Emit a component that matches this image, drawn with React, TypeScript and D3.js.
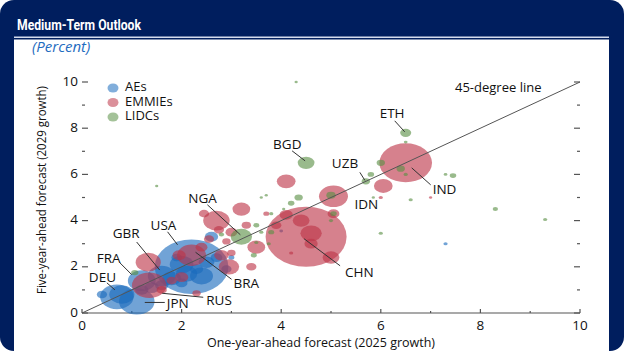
import { useEffect, useRef } from "react";
import * as d3 from "d3";

type Bubble = { id: string; x: number; y: number; w: number };

// one-year-ahead (x), five-year-ahead (y), weight (share of world GDP)
const aes: Bubble[] = [
	{ id: "USA", x: 2.2, y: 2.0, w: 15.5 },
	{ id: "JPN", x: 1.1, y: 0.5, w: 3.6 },
	{ id: "DEU", x: 0.7, y: 0.7, w: 3.2 },
	{ id: "FRA", x: 1.2, y: 1.4, w: 2.2 },
	{ id: "GBR", x: 1.6, y: 1.6, w: 2.2 },
	{ id: "", x: 0.8, y: 0.8, w: 1.8 },
	{ id: "", x: 2.4, y: 1.6, w: 1.5 },
	{ id: "", x: 2.0, y: 2.1, w: 1.6 },
	{ id: "", x: 2.1, y: 1.7, w: 1.3 },
	{ id: "", x: 1.8, y: 1.5, w: 1.0 },
	{ id: "", x: 2.5, y: 2.2, w: 0.7 },
	{ id: "", x: 1.4, y: 1.1, w: 0.6 },
	{ id: "", x: 1.6, y: 1.2, w: 0.5 },
	{ id: "", x: 2.3, y: 1.9, w: 0.5 },
	{ id: "", x: 1.2, y: 1.0, w: 0.5 },
	{ id: "", x: 2.6, y: 3.3, w: 0.5 },
	{ id: "", x: 2.0, y: 1.3, w: 0.4 },
	{ id: "", x: 2.7, y: 2.4, w: 0.4 },
	{ id: "", x: 1.9, y: 2.4, w: 0.3 },
	{ id: "", x: 2.9, y: 1.9, w: 0.3 },
	{ id: "", x: 0.4, y: 0.8, w: 0.3 },
	{ id: "", x: 3.0, y: 2.4, w: 0.1 },
	{ id: "", x: 4.0, y: 3.55, w: 0.04 },
	{ id: "", x: 7.3, y: 3.0, w: 0.05 },
];

const emmies: Bubble[] = [
	{ id: "CHN", x: 4.5, y: 3.3, w: 18.7 },
	{ id: "IND", x: 6.5, y: 6.5, w: 7.9 },
	{ id: "IDN", x: 5.05, y: 5.05, w: 2.4 },
	{ id: "BRA", x: 2.2, y: 2.5, w: 2.4 },
	{ id: "RUS", x: 1.35, y: 1.2, w: 3.4 },
	{ id: "", x: 1.33, y: 2.2, w: 1.8 },
	{ id: "", x: 2.7, y: 4.0, w: 2.0 },
	{ id: "", x: 4.1, y: 5.7, w: 1.0 },
	{ id: "", x: 3.2, y: 4.5, w: 0.9 },
	{ id: "", x: 3.5, y: 2.85, w: 0.9 },
	{ id: "", x: 2.95, y: 2.0, w: 1.2 },
	{ id: "", x: 4.1, y: 4.25, w: 0.5 },
	{ id: "", x: 4.4, y: 4.0, w: 0.8 },
	{ id: "", x: 4.6, y: 3.45, w: 1.3 },
	{ id: "", x: 4.6, y: 3.0, w: 0.5 },
	{ id: "", x: 5.0, y: 2.4, w: 0.8 },
	{ id: "", x: 6.05, y: 5.5, w: 1.0 },
	{ id: "", x: 5.05, y: 4.3, w: 0.4 },
	{ id: "", x: 2.0, y: 1.55, w: 0.5 },
	{ id: "", x: 2.3, y: 0.85, w: 0.2 },
	{ id: "", x: 1.95, y: 2.5, w: 0.5 },
	{ id: "", x: 2.4, y: 2.85, w: 0.4 },
	{ id: "", x: 2.55, y: 3.2, w: 0.3 },
	{ id: "", x: 2.45, y: 4.3, w: 0.3 },
	{ id: "", x: 3.0, y: 3.5, w: 0.4 },
	{ id: "", x: 2.75, y: 3.6, w: 0.3 },
	{ id: "", x: 3.4, y: 2.0, w: 0.3 },
	{ id: "", x: 3.9, y: 3.8, w: 0.3 },
	{ id: "", x: 3.3, y: 3.8, w: 0.25 },
	{ id: "", x: 2.8, y: 2.5, w: 0.6 },
	{ id: "", x: 3.0, y: 2.6, w: 0.2 },
	{ id: "", x: 2.9, y: 3.1, w: 0.2 },
	{ id: "", x: 1.6, y: 1.0, w: 0.3 },
	{ id: "", x: 1.8, y: 1.4, w: 0.3 },
	{ id: "", x: 3.7, y: 4.3, w: 0.1 },
	{ id: "", x: 4.2, y: 2.6, w: 0.05 },
	{ id: "", x: 6.0, y: 5.0, w: 0.05 },
	{ id: "", x: 7.0, y: 5.0, w: 0.03 },
];

const lidcs: Bubble[] = [
	{ id: "NGA", x: 3.2, y: 3.3, w: 1.3 },
	{ id: "BGD", x: 4.5, y: 6.5, w: 0.8 },
	{ id: "ETH", x: 6.5, y: 7.8, w: 0.35 },
	{ id: "UZB", x: 5.7, y: 5.7, w: 0.2 },
	{ id: "", x: 4.3, y: 10.0, w: 0.03 },
	{ id: "", x: 1.5, y: 5.5, w: 0.03 },
	{ id: "", x: 8.3, y: 4.5, w: 0.08 },
	{ id: "", x: 9.3, y: 4.05, w: 0.05 },
	{ id: "", x: 7.45, y: 5.95, w: 0.12 },
	{ id: "", x: 7.3, y: 6.0, w: 0.04 },
	{ id: "", x: 6.6, y: 4.9, w: 0.05 },
	{ id: "", x: 5.8, y: 6.0, w: 0.12 },
	{ id: "", x: 5.85, y: 5.0, w: 0.03 },
	{ id: "", x: 6.0, y: 6.5, w: 0.2 },
	{ id: "", x: 6.4, y: 6.25, w: 0.2 },
	{ id: "", x: 6.5, y: 6.0, w: 0.05 },
	{ id: "", x: 6.5, y: 7.4, w: 0.04 },
	{ id: "", x: 4.35, y: 5.0, w: 0.2 },
	{ id: "", x: 4.2, y: 4.75, w: 0.12 },
	{ id: "", x: 5.0, y: 5.1, w: 0.25 },
	{ id: "", x: 5.05, y: 4.3, w: 0.12 },
	{ id: "", x: 6.0, y: 3.45, w: 0.05 },
	{ id: "", x: 4.05, y: 4.5, w: 0.03 },
	{ id: "", x: 3.8, y: 4.3, w: 0.05 },
	{ id: "", x: 3.8, y: 3.5, w: 0.1 },
	{ id: "", x: 3.6, y: 3.5, w: 0.05 },
	{ id: "", x: 3.5, y: 3.8, w: 0.1 },
	{ id: "", x: 3.5, y: 3.05, w: 0.05 },
	{ id: "", x: 3.75, y: 3.0, w: 0.05 },
	{ id: "", x: 3.45, y: 2.5, w: 0.1 },
	{ id: "", x: 5.0, y: 4.0, w: 0.05 },
	{ id: "", x: 1.06, y: 1.75, w: 0.15 },
	{ id: "", x: 3.7, y: 5.1, w: 0.03 },
	{ id: "", x: 3.6, y: 5.0, w: 0.03 },
	{ id: "", x: 2.8, y: 3.4, w: 0.08 },
];

const groupNames = ["AEs", "EMMIEs", "LIDCs"];
const groupColors = ["#1a6bbd", "#bd3447", "#5a8f45"];
const majorTicks = [0, 2, 4, 6, 8, 10];
const minorTicks = [1, 3, 5, 7, 9];

// label placement, px offsets from the bubble centre: text, leader start, leader end
const labelLayout: Record<string, { t: [number, number]; a?: [number, number]; b?: [number, number] }> = {
	CHN: { t: [39, 40], a: [-2, 2], b: [34, 29] },
	IND: { t: [27, 31], a: [6, 5], b: [25, 22] },
	IDN: { t: [21, 13] },
	BRA: { t: [42, 33], a: [4, -3], b: [40, 24] },
	RUS: { t: [57, 20], a: [13, 8], b: [54, 12] },
	JPN: { t: [30, 7], a: [8, 1], b: [28, 1] },
	DEU: { t: [-28, -15], a: [-2, -7], b: [-10, -14] },
	FRA: { t: [-45, -18], a: [-10, -6], b: [-22, -18] },
	GBR: { t: [-49, -38], a: [-2, -6], b: [-25, -34] },
	USA: { t: [-41, -37], a: [-14, -22], b: [-24, -35] },
	NGA: { t: [-53, -34], a: [-1, -2], b: [-34, -32] },
	BGD: { t: [-33, -14], a: [-1, -2], b: [-14, -12] },
	UZB: { t: [-34, -13], a: [-1, -1], b: [-6, -9] },
	ETH: { t: [-26, -15], a: [-1, -1], b: [-11, -12] },
};

const FONT = "'Open Sans', sans-serif";

const App = () => {
	const svgRef = useRef<SVGSVGElement>(null);

	useEffect(() => {
		if (!svgRef.current) return;
		document.body.style.margin = "0";

		const W = 624;
		const H = 352;
		const svg = d3.select(svgRef.current).attr("width", W).attr("height", H);
		svg.selectAll("*").remove();

		// cadre
		svg.append("rect").attr("width", W).attr("height", H).attr("fill", "#fff");
		svg.append("rect").attr("x", 0).attr("y", 0).attr("width", W).attr("height", H - 1)
			.attr("rx", 14).attr("fill", "#001e5e");
		svg.append("rect").attr("x", 14).attr("y", 39.5).attr("width", 595).attr("height", H - 39.5)
			.attr("fill", "#fff");
		svg.append("line").attr("x1", 14).attr("x2", 609).attr("y1", 37.2).attr("y2", 37.2)
			.attr("stroke", "#d5ddee").attr("stroke-width", 1.4);
		svg.append("text").attr("x", 17).attr("y", 30).text("Medium-Term Outlook")
			.attr("fill", "#fff").attr("font-family", "Roboto, sans-serif")
			.attr("font-weight", 700).attr("font-size", 14)
			.attr("textLength", 124).attr("lengthAdjust", "spacingAndGlyphs");
		svg.append("text").attr("x", 32).attr("y", 52).text("(Percent)")
			.attr("fill", "#1f6cc0").attr("font-family", FONT).attr("font-style", "italic")
			.attr("font-size", 15);

		const x = d3.scaleLinear().domain([0, 10]).range([82, 580]);
		const y = d3.scaleLinear().domain([0, 10]).range([313, 82]);
		const r = d3.scaleSqrt().domain([0, 18.7]).range([0, 30]);
		const stretch = 1.35;

		const g = svg.append("g");

		// axes
		g.append("line").attr("x1", x(0)).attr("x2", x(10)).attr("y1", y(0)).attr("y2", y(0))
			.attr("stroke", "#555").attr("stroke-width", 1.2);
		majorTicks.forEach((t) => {
			g.append("line").attr("x1", x(t)).attr("x2", x(t)).attr("y1", y(0)).attr("y2", y(0) - 4)
				.attr("stroke", "#555").attr("stroke-width", 1.2);
			g.append("text").attr("x", x(t)).attr("y", 330).attr("text-anchor", "middle")
				.attr("font-family", FONT).attr("font-size", 13.5).attr("fill", "#111").text(t);
			g.append("text").attr("x", 78).attr("y", y(t)).attr("text-anchor", "end")
				.attr("dominant-baseline", "middle")
				.attr("font-family", FONT).attr("font-size", 13.5).attr("fill", "#111").text(t);
			g.append("line").attr("x1", x(0)).attr("x2", x(0) + 6).attr("y1", y(t)).attr("y2", y(t))
				.attr("stroke", "#555").attr("stroke-width", 1.2);
			g.append("line").attr("x1", x(10) - 6).attr("x2", x(10)).attr("y1", y(t)).attr("y2", y(t))
				.attr("stroke", "#555").attr("stroke-width", 1.2);
		});
		minorTicks.forEach((t) => {
			g.append("line").attr("x1", x(t)).attr("x2", x(t)).attr("y1", y(0)).attr("y2", y(0) - 2)
				.attr("stroke", "#555").attr("stroke-width", 1.2);
			g.append("line").attr("x1", x(0)).attr("x2", x(0) + 3).attr("y1", y(t)).attr("y2", y(t))
				.attr("stroke", "#555").attr("stroke-width", 1.2);
			g.append("line").attr("x1", x(10) - 3).attr("x2", x(10)).attr("y1", y(t)).attr("y2", y(t))
				.attr("stroke", "#555").attr("stroke-width", 1.2);
		});

		g.append("text").attr("x", 321).attr("y", 347).attr("text-anchor", "middle")
			.attr("font-family", FONT).attr("font-size", 12.5).attr("fill", "#111")
			.text("One-year-ahead forecast (2025 growth)");
		g.append("text").attr("transform", "translate(46,190) rotate(-90)")
			.attr("text-anchor", "middle").attr("font-family", FONT).attr("font-size", 13)
			.attr("fill", "#111").attr("textLength", 208).attr("lengthAdjust", "spacingAndGlyphs")
			.text("Five-year-ahead forecast (2029 growth)");

		// bulles
		[aes, emmies, lidcs].forEach((set, i) => {
			const sorted = [...set].sort((a, b) => b.w - a.w);
			g.append("g").selectAll("ellipse").data(sorted).join("ellipse")
				.attr("cx", (d) => x(d.x)).attr("cy", (d) => y(d.y))
				.attr("rx", (d) => Math.max(1.2, r(d.w) * stretch))
				.attr("ry", (d) => Math.max(1, r(d.w)))
				.attr("fill", groupColors[i]).attr("fill-opacity", 0.62);
		});

		// ligne à 45 degrés
		g.append("line").attr("x1", x(0)).attr("y1", y(0)).attr("x2", x(10)).attr("y2", y(10))
			.attr("stroke", "#555").attr("stroke-width", 1);
		g.append("text").attr("x", 455).attr("y", 92).attr("font-family", FONT)
			.attr("font-size", 13).attr("fill", "#111").text("45-degree line");

		// étiquettes
		[...aes, ...emmies, ...lidcs].filter((d) => d.id && labelLayout[d.id]).forEach((d) => {
			const L = labelLayout[d.id];
			const cx = x(d.x);
			const cy = y(d.y);
			if (L.a && L.b) {
				g.append("line").attr("x1", cx + L.a[0]).attr("y1", cy + L.a[1])
					.attr("x2", cx + L.b[0]).attr("y2", cy + L.b[1])
					.attr("stroke", "#333").attr("stroke-width", 1);
			}
			g.append("text").attr("x", cx + L.t[0]).attr("y", cy + L.t[1])
				.attr("font-family", FONT).attr("font-size", 13.5).attr("fill", "#111").text(d.id);
		});

		// légende
		groupNames.forEach((name, i) => {
			const ly = 88 + i * 14.5;
			g.append("ellipse").attr("cx", 113).attr("cy", ly).attr("rx", 5.5).attr("ry", 4.5)
				.attr("fill", groupColors[i]).attr("fill-opacity", 0.55);
			g.append("text").attr("x", 125).attr("y", ly).attr("dominant-baseline", "middle")
				.attr("font-family", FONT).attr("font-size", 13).attr("fill", "#111").text(name);
		});
	}, []);

	return <svg ref={svgRef} style={{ position: "absolute", left: 0, top: 0, display: "block" }}></svg>;
};

export default App;
